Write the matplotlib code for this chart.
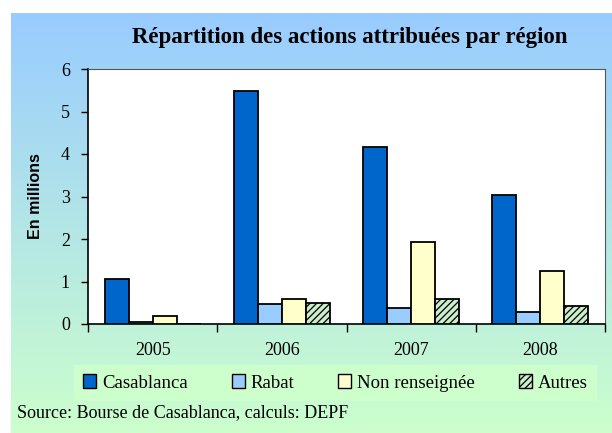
import numpy as np
import matplotlib
matplotlib.use("Agg")
import matplotlib.pyplot as plt
from matplotlib.colors import LinearSegmentedColormap

# data (millions)
years = ['2005', '2006', '2007', '2008']
casablanca = [1.07, 5.48, 4.17, 3.04]
rabat = [0.04, 0.47, 0.37, 0.28]
non_renseignee = [0.19, 0.60, 1.92, 1.24]
autres = [0.0, 0.50, 0.60, 0.42]

series = ['Casablanca', 'Rabat', 'Non renseignée', 'Autres']
colors = ['#0066CC', '#99CCFF', '#FFFFCC', '#CCEECC']
hatches = [None, None, None, '/////']

plt.rcParams['hatch.linewidth'] = 0.9
serif = 'Liberation Serif'

fig = plt.figure(figsize=(6.12, 4.33), dpi=100)

# gradient background (blue -> green)
bg = fig.add_axes([11 / 612, 0, 1 - 11 / 612, 1 - 13 / 433], zorder=-10)
cmap = LinearSegmentedColormap.from_list('bg', ['#99CCFF', '#CCFFCC'])
grad = np.linspace(0, 1, 256).reshape(-1, 1)
bg.imshow(grad, aspect='auto', cmap=cmap, extent=[0, 1, 0, 1], origin='upper')
bg.axis('off')

ax = fig.add_axes([88 / 612, 1 - 324 / 433, (605 - 88) / 612, (324 - 69) / 433])
ax.set_facecolor('white')

x = np.arange(len(years))
w = 0.186
for i, (name, vals) in enumerate(zip(series, [casablanca, rabat, non_renseignee, autres])):
    ax.bar(x + (i - 1.5) * w, vals, w, color=colors[i], edgecolor='black',
           linewidth=1.3, hatch=hatches[i], label=name, zorder=3)

ax.set_xlim(-0.5, len(years) - 0.5)
ax.set_ylim(0, 6)
ax.set_yticks(range(0, 7))
ax.tick_params(axis='y', direction='out', length=5, width=1, labelsize=13, pad=8)
for lab in ax.get_yticklabels():
    lab.set_family(serif)

# category dividers as major ticks, year labels as minor ticks
ax.set_xticks(np.arange(-0.5, len(years), 1))
ax.set_xticklabels([])
ax.set_xticks(x, minor=True)
ax.set_xticklabels(years, minor=True, family=serif, fontsize=13)
ax.tick_params(axis='x', which='major', direction='out', length=6, width=1)
ax.tick_params(axis='x', which='minor', length=0, pad=13)

for s in ['left', 'bottom']:
    ax.spines[s].set_linewidth(1.2)
for s in ['top', 'right']:
    ax.spines[s].set_color('#555555')
    ax.spines[s].set_linewidth(0.8)

ax.set_ylabel('En millions', family='Liberation Sans', fontweight='bold',
              fontsize=11.5, labelpad=13)

fig.text(0.572, 1 - 37 / 433, 'Répartition des actions attribuées par région',
         ha='center', va='center', family=serif, fontweight='bold', fontsize=16.5)

leg = ax.legend(loc='center', bbox_to_anchor=(0.548, 1 - 383 / 433), bbox_transform=fig.transFigure,
                ncol=4, frameon=True, facecolor='#CCFFCC', edgecolor='none', fancybox=False,
                prop={'family': serif, 'size': 13.5}, handlelength=0.7, handleheight=0.7,
                handletextpad=0.3, columnspacing=2.35, borderpad=0.5)
leg.get_frame().set_alpha(1)
for p in leg.get_patches():
    p.set_linewidth(1.0)

fig.text(17 / 612, 1 - 413 / 433, 'Source: Bourse de Casablanca, calculs: DEPF',
         ha='left', va='center', family=serif, fontsize=13)

fig.savefig('out.png', dpi=100)
